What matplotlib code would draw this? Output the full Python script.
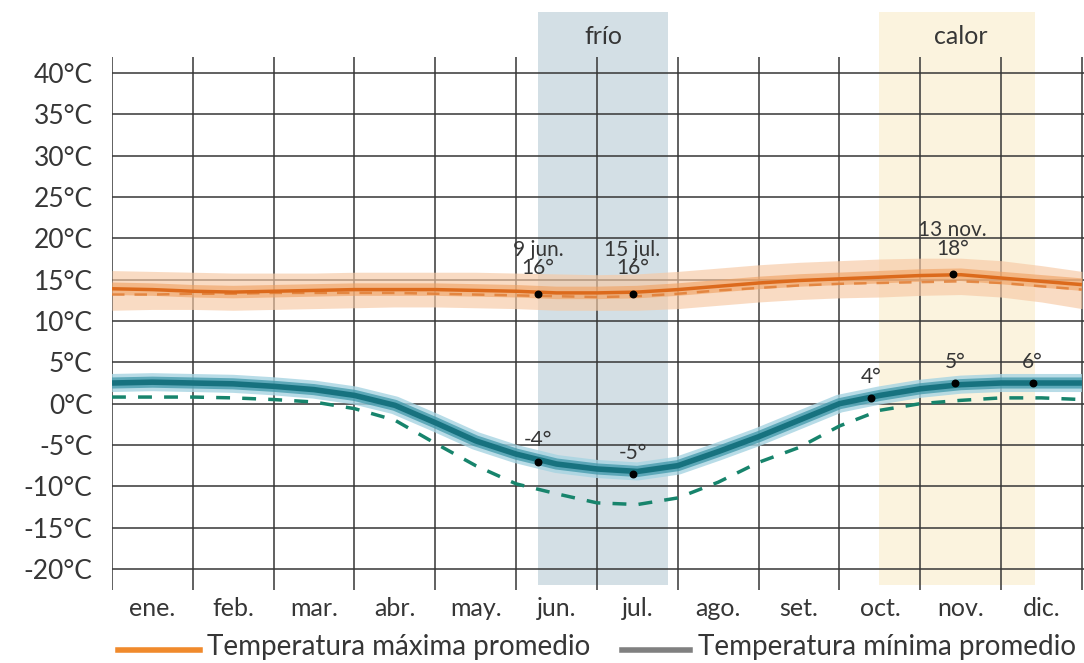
import matplotlib.pyplot as plt
from matplotlib.lines import Line2D

plt.rcParams['font.family'] = ['Lato', 'DejaVu Sans']

# posiciones en meses (0 = 1 ene., 12 = 31 dic.), cada medio mes
x_mes = [0, 0.5, 1, 1.5, 2, 2.5, 3, 3.5, 4, 4.5, 5, 5.5, 6,
         6.5, 7, 7.5, 8, 8.5, 9, 9.5, 10, 10.5, 11, 11.5, 12]

# temperatura maxima promedio (naranja)
t_max = [13.9, 13.8, 13.6, 13.5, 13.6, 13.7, 13.8, 13.8, 13.8, 13.7, 13.6, 13.4, 13.4,
         13.5, 13.8, 14.2, 14.6, 14.9, 15.1, 15.3, 15.5, 15.6, 15.2, 14.8, 14.4]
t_max_alta = [16.1, 16.0, 15.9, 15.8, 15.8, 15.8, 15.9, 15.9, 15.9, 15.9, 15.8, 15.7, 15.6,
              15.7, 16.0, 16.4, 16.8, 17.1, 17.3, 17.5, 17.6, 17.6, 17.3, 16.7, 16.0]
t_max_baja = [11.3, 11.4, 11.4, 11.3, 11.4, 11.5, 11.6, 11.7, 11.7, 11.6, 11.5, 11.3, 11.3,
              11.3, 11.5, 11.9, 12.3, 12.6, 12.8, 12.9, 13.1, 13.2, 12.9, 12.3, 11.5]
t_max_trazos = [13.2, 13.2, 13.3, 13.3, 13.4, 13.4, 13.4, 13.4, 13.3, 13.2, 13.1, 13.0, 12.9,
                13.0, 13.3, 13.7, 14.0, 14.3, 14.5, 14.6, 14.7, 14.8, 14.6, 14.2, 13.8]

# temperatura minima promedio (verde azulado)
t_min = [2.5, 2.6, 2.5, 2.4, 2.1, 1.7, 1.0, -0.2, -2.3, -4.5, -6.1, -7.3, -7.9,
         -8.2, -7.5, -5.8, -4.0, -2.0, 0.0, 1.0, 1.8, 2.3, 2.5, 2.5, 2.5]
t_min_trazos = [0.8, 0.8, 0.8, 0.7, 0.5, 0.2, -0.6, -2.0, -4.8, -7.5, -9.7, -10.9, -12.0,
                -12.2, -11.4, -9.5, -7.1, -5.3, -2.7, -0.8, 0.0, 0.4, 0.7, 0.7, 0.5]

# puntos destacados
max_pts_x = [5.27, 6.44, 10.40]
max_pts_y = [13.3, 13.3, 15.7]
max_pts_txt = ['9 jun.\n16°', '15 jul.\n16°', '13 nov.\n18°']
min_pts_x = [5.27, 6.44, 9.39, 10.43, 11.39]
min_pts_y = [-7.0, -8.5, 0.7, 2.5, 2.5]
min_pts_txt = ['-4°', '-5°', '4°', '5°', '6°']

# temporadas
frio = (5.27, 6.88)
calor = (9.49, 11.42)

meses = ['ene.', 'feb.', 'mar.', 'abr.', 'may.', 'jun.',
         'jul.', 'ago.', 'set.', 'oct.', 'nov.', 'dic.']
temps = list(range(-20, 45, 5))

gris = '#363636'

fig = plt.figure(figsize=(10.84, 6.63), dpi=100)
ax = fig.add_axes([112 / 1084, 73 / 663, 972 / 1084, 578 / 663])
ax.set_xlim(0, 12.025)
ax.set_ylim(-22.54, 47.38)
for s in ax.spines.values():
    s.set_visible(False)

# franjas de temporada
ax.axvspan(frio[0], frio[1], ymin=0.009, ymax=1, color='#d3dfe5', lw=0, zorder=0)
ax.axvspan(calor[0], calor[1], ymin=0.009, ymax=1, color='#fbf3de', lw=0, zorder=0)
ax.text(sum(frio) / 2, 44.4, 'frío', ha='center', va='center', fontsize=18, color=gris)
ax.text(sum(calor) / 2 + 0.05, 44.4, 'calor', ha='center', va='center', fontsize=18, color=gris)

# rejilla
ax.hlines(temps, 0, 12.025, color=gris, lw=1.1, zorder=1)
ax.vlines(range(13), -22.54, 41.94, color=gris, lw=1.1, zorder=1)

# maxima
ax.fill_between(x_mes, t_max_baja, t_max_alta, color='#f7c9a4', alpha=0.65, lw=0, zorder=2)
ax.plot(x_mes, t_max, color='#f0a060', lw=9, alpha=0.6, solid_capstyle='butt', zorder=3)
ax.plot(x_mes, t_max_trazos, color='#e07a30', lw=1.8, ls=(0, (5, 4)), alpha=0.8, zorder=3)
ax.plot(x_mes, t_max, color='#dc6a1c', lw=2.5, solid_capstyle='butt', zorder=4)

# minima
ax.plot(x_mes, t_min, color='#a6d4e2', lw=13, alpha=0.8, solid_capstyle='butt', zorder=3)
ax.plot(x_mes, t_min, color='#4098aa', lw=8, alpha=0.75, solid_capstyle='butt', zorder=3)
ax.plot(x_mes, t_min, color='#17727f', lw=4, solid_capstyle='butt', zorder=4)
ax.plot(x_mes, t_min_trazos, color='#17846c', lw=2.5, ls=(0, (4, 3.5)), zorder=3)

# puntos y etiquetas
ax.scatter(max_pts_x + min_pts_x, max_pts_y + min_pts_y, s=22, color='black', zorder=5)
for x, y, t in zip(max_pts_x, max_pts_y, max_pts_txt):
    ax.annotate(t, (x, y), xytext=(0, 11), textcoords='offset points', ha='center',
                va='bottom', fontsize=15, color=gris, linespacing=0.9, zorder=6)
for x, y, t in zip(min_pts_x, min_pts_y, min_pts_txt):
    ax.annotate(t, (x, y), xytext=(0, 8), textcoords='offset points', ha='center',
                va='bottom', fontsize=15, color=gris, zorder=6)

# ejes
ax.set_yticks(temps)
ax.set_yticklabels([f'{t}°C' for t in temps])
ax.set_xticks([m + 0.5 for m in range(12)])
ax.set_xticklabels(meses)
ax.tick_params(axis='y', length=0, pad=14, labelsize=19, labelcolor=gris)
ax.tick_params(axis='x', length=0, pad=5, labelsize=18, labelcolor=gris)

# leyenda
fig.add_artist(Line2D([118 / 1084, 200 / 1084], [13 / 663, 13 / 663], color='#f08a2c', lw=4))
fig.text(207 / 1084, 16 / 663, 'Temperatura máxima promedio', fontsize=20, color=gris, va='center')
fig.add_artist(Line2D([622 / 1084, 690 / 1084], [13 / 663, 13 / 663], color='#808080', lw=4))
fig.text(698 / 1084, 16 / 663, 'Temperatura mínima promedio', fontsize=20, color=gris, va='center')

fig.savefig('out.png', dpi=100)
